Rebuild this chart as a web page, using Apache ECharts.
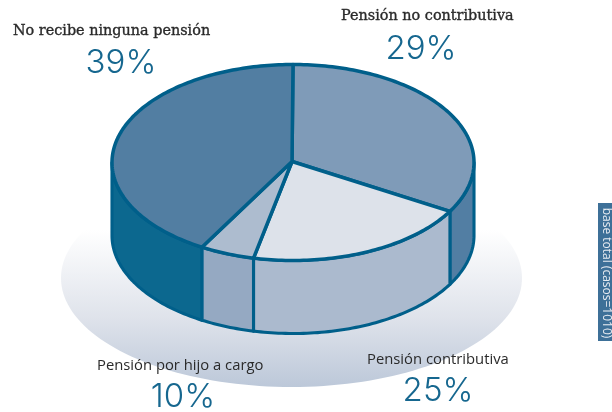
<!DOCTYPE html>
<html><head><meta charset="utf-8">
<style>html,body{margin:0;padding:0;background:#fff}#c{width:612px;height:412px}</style>
<script src="https://cdn.jsdelivr.net/npm/echarts@6/dist/echarts.min.js"></script>
</head><body><div id="c"></div>
<script>
// Printed categories and percentages
const categories = ['Pensión no contributiva', 'Pensión contributiva', 'Pensión por hijo a cargo', 'No recibe ninguna pensión'];
const printedPercent = [29, 25, 10, 39];
const drawnShare = [33.3, 20.2, 4.9, 41.6];
const baseNote = 'base total (casos=1010)';

const topColors = ['#7f9bb8', '#dde2ea', '#adbccf', '#527ea2'];
const wallColors = ['#527ea3', '#abbace', '#95a9c2', '#0c688f'];
const stroke = '#005f8a';
const CX = 293, CY = 162.5, RX = 181, RY = 98, DEPTH = 73;
const AX = 292, AY = 161.5;

const pt = (t, dy) => [CX + RX * Math.sin(t), CY - RY * Math.cos(t) + (dy || 0)];
function arc(a, b, dy) {
  const n = Math.max(2, Math.ceil(Math.abs(b - a) / 0.02)), out = [];
  for (let i = 0; i <= n; i++) out.push(pt(a + (b - a) * i / n, dy));
  return out;
}
const total = drawnShare.reduce((s, v) => s + v, 0);
let acc = 0;
const sliceData = drawnShare.map((v, i) => { const s = acc; acc += v; return [s / total, acc / total, i]; });

function renderSlice(params, api) {
  const a = api.value(0) * 2 * Math.PI, b = api.value(1) * 2 * Math.PI, i = api.value(2);
  const children = [];
  const lo = Math.max(a, Math.PI / 2), hi = Math.min(b, 3 * Math.PI / 2);
  if (hi > lo) {
    const wall = arc(lo, hi, 0).concat(arc(hi, lo, DEPTH));
    children.push({ type: 'polygon', shape: { points: wall },
      style: { fill: wallColors[i], stroke: stroke, lineWidth: 3.1, lineJoin: 'round' } });
  }
  const top = [[AX, AY]].concat(arc(a, b, 0));
  children.push({ type: 'polygon', z2: 5, shape: { points: top },
    style: { fill: topColors[i], stroke: stroke, lineWidth: 3.5, lineJoin: 'round' } });
  return { type: 'group', children };
}
function renderBackdrop() {
  const pts = [];
  for (let k = 0; k < 180; k++) {
    const t = k / 180 * 2 * Math.PI;
    pts.push([291.5 + 230.5 * Math.cos(t), 278 + 109 * Math.sin(t)]);
  }
  return { type: 'polygon', shape: { points: pts }, style: {
    fill: new echarts.graphic.LinearGradient(0, 0, 0, 1, [
      { offset: 0, color: '#ffffff' }, { offset: 0.28, color: '#ffffff' },
      { offset: 0.68, color: '#dfe3eb' }, { offset: 1, color: '#bcc8d9' }]) } };
}

const serif = '"DejaVu Serif", serif', sans = '"Open Sans", sans-serif';
const pctText = (v, x, y) => ({ type: 'text', x, y, z: 10, style: { text: v + '%', fill: '#16678f',
  font: '300 33px Inter, sans-serif', textAlign: 'center', textVerticalAlign: 'middle' } });
const catText = (name, x, y, font, bold) => ({ type: 'text', x, y, z: 10, style: { text: name, fill: '#2a2a2a',
  stroke: bold ? '#2a2a2a' : undefined, lineWidth: bold ? 0.35 : 0,
  font, textAlign: 'left', textVerticalAlign: 'middle' } });
const serifFont = '14.4px ' + serif, sansFont = '14.8px ' + sans;

const chart = echarts.init(document.getElementById('c'), null, { renderer: 'canvas' });
chart.setOption({
  animation: false,
  backgroundColor: '#ffffff',
  series: [
    { type: 'custom', coordinateSystem: 'none', data: [[0]], renderItem: renderBackdrop, silent: true, z: 1 },
    { type: 'custom', coordinateSystem: 'none', data: sliceData, renderItem: renderSlice, silent: true, z: 2 }
  ],
  graphic: [
    catText(categories[3], 13, 31, serifFont, true),
    pctText(printedPercent[3], 121, 63),
    catText(categories[0], 341, 16, serifFont, true),
    pctText(printedPercent[0], 421, 49),
    catText(categories[2], 97, 366, sansFont),
    pctText(printedPercent[2], 183, 397),
    catText(categories[1], 367, 360, sansFont),
    pctText(printedPercent[1], 438, 391),
    { type: 'rect', z: 10, shape: { x: 598, y: 203, width: 14, height: 138 }, style: { fill: '#3d7098' } },
    { type: 'text', z: 11, x: 606.5, y: 273, rotation: -Math.PI / 2,
      style: { text: baseNote, fill: '#e6ebf1', font: '12px ' + sans, textAlign: 'center', textVerticalAlign: 'middle' } }
  ]
});
</script></body></html>
